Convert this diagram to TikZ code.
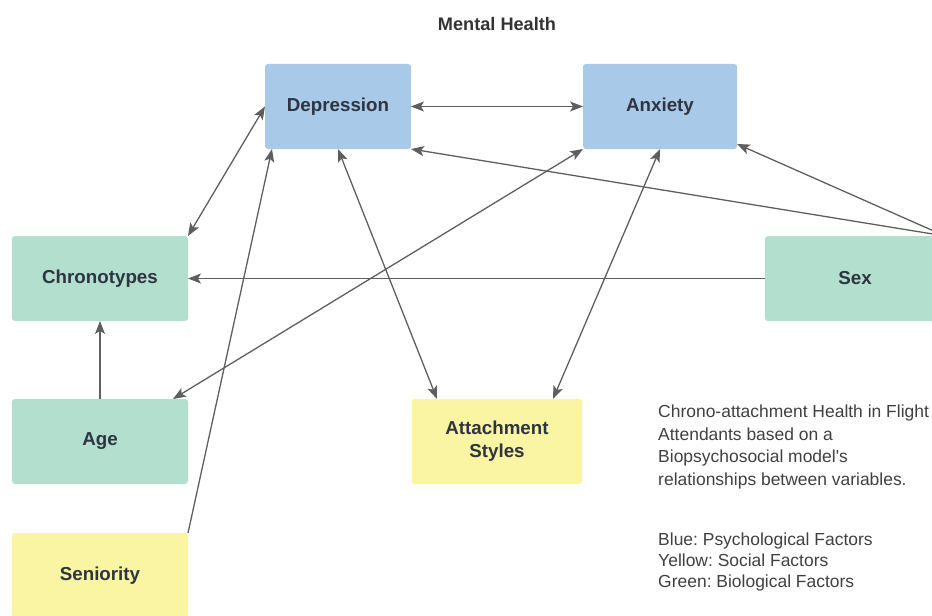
\documentclass[tikz,border=0pt]{standalone}
\usepackage{fontspec}
\setmainfont{Liberation Sans}
\newfontfamily\plainfont{Liberation Sans}
\usetikzlibrary{arrows.meta}
\definecolor{psyblue}{HTML}{A9C9E9}
\definecolor{biogreen}{HTML}{B3DFCF}
\definecolor{socyellow}{HTML}{FAF5A2}
\definecolor{boxtext}{HTML}{2E3440}
\definecolor{linegray}{HTML}{5E5E5E}

\begin{document}
\frenchspacing
\begin{tikzpicture}[x=0.03cm,y=-0.03cm,>={Stealth[length=11pt,width=8.5pt,inset=2.5pt]},
  main node/.style={rounded corners=2.5pt,minimum height=2.55cm,outer sep=0pt,
    text=boxtext,font=\fontsize{16}{19.5}\selectfont\bfseries,align=center},
  note/.style={anchor=north west,align=left,text=black!75,inner sep=0pt}]
  \useasboundingbox (0,0) rectangle (932,615);
  \clip (0,0) rectangle (932,615);
  \node[font=\fontsize{15.5}{18}\selectfont\bfseries,text=black!80] (title) at (497,24) {Mental Health};
  \node[main node,fill=psyblue,minimum width=4.38cm]    (dep) at (338,106.5) {Depression};
  \node[main node,fill=psyblue,minimum width=4.62cm]    (anx) at (660,106.5) {Anxiety};
  \node[main node,fill=biogreen,minimum width=5.28cm]   (chr) at (100,278.5) {Chronotypes};
  \node[main node,fill=biogreen,minimum width=5.4cm]    (sex) at (855,278.5) {Sex};
  \node[main node,fill=biogreen,minimum width=5.28cm]   (age) at (100,441.5) {Age};
  \node[main node,fill=socyellow,minimum width=5.1cm]   (att) at (497,441.5) {Attachment\\Styles};
  \node[main node,fill=socyellow,minimum width=5.28cm]  (sen) at (100,575.5) {Seniority};
  \node[note,font=\plainfont\fontsize{14.9}{19.1}\selectfont] (desc) at (658,405)
    {Chrono-attachment Health in Flight\\Attendants based on a\\Biopsychosocial model's\\relationships between variables.};
  \node[note,font=\plainfont\fontsize{14.9}{17.9}\selectfont] (key) at (658,533)
    {Blue: Psychological Factors\\Yellow: Social Factors\\Green: Biological Factors};
  \path[every edge/.style={draw=linegray,line width=1.1pt}]
    (dep.east) edge [<->] (anx.west)
    (dep.west) edge [<->] (chr.north east)
    (sen.north east) edge [->] ([xshift=0.21cm]dep.south west)
    (dep.south) edge [<->] ([xshift=0.75cm]att.north west)
    (anx.south west) edge [<->] ([xshift=-0.45cm]age.north east)
    (anx.south) edge [<->] ([xshift=-0.87cm]att.north east)
    (sex.north east) edge [->] (dep.south east)
    (sex.north east) edge [->] ([yshift=0.15cm]anx.south east)
    (sex.west) edge [->] (chr.east)
    (age.north) edge [->] (chr.south);
\end{tikzpicture}
\end{document}
